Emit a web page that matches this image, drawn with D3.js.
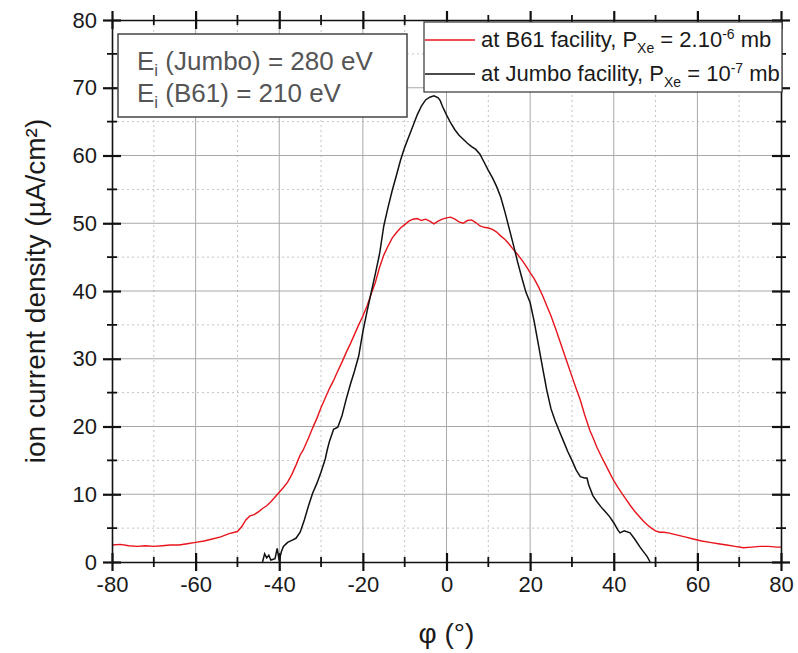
<!DOCTYPE html>
<html>
<head>
<meta charset="utf-8">
<script src="https://cdn.jsdelivr.net/npm/d3@7"></script>
<style>
  body { margin: 0; background: #fff; }
  svg { display: block; font-family: "Liberation Sans", Arial, sans-serif; }
</style>
</head>
<body>
<svg id="chart" width="798" height="653"></svg>
<script>
// ---- data ----
const phiB61 = [-80,-78,-76,-74,-72,-70,-68,-66,-64,-62,-60,-58,-56,-54,-52,-50,-49,-48,-47,-46,-45,-44,-43,-42,-41,-40,-39,-38,-37,-36,-35,-34.3,-33,-32,-31,-30,-29,-28,-27,-26,-25,-24,-23,-22,-21,-20,-19,-18,-17,-16,-15,-14,-13,-12,-11,-10,-9,-8,-7,-6,-5,-4,-3,-2,-1,0,1,2,3,4,5,6,7,8,9,10,11,12,13,14,15,16,17,18,19,20,21,22,23,24,25,26,27,28,29,30,31,32,33,34.3,35,36,37,38,39,40,41,42,43,44,45,46,47,48,49,50,51,52,53,55,57,59,61,63,65,67,69,71,73,75,77,79,80];
const jB61 = [2.5,2.6,2.4,2.3,2.4,2.3,2.4,2.5,2.5,2.7,2.9,3.1,3.4,3.7,4.2,4.5,5.2,6.2,6.8,7.0,7.4,7.9,8.3,8.9,9.6,10.3,11.0,11.8,12.9,14.3,15.8,16.5,18.3,19.8,21.2,22.8,24.2,25.6,26.8,28.2,29.5,30.9,32.2,33.6,35.0,36.3,37.8,39.6,41.3,43.5,45.3,46.6,47.8,48.6,49.3,49.8,50.3,50.6,50.7,50.4,50.6,50.3,49.9,50.3,50.6,50.8,50.9,50.6,50.2,50.0,50.4,50.5,50.1,49.6,49.4,49.3,49.1,48.7,48.1,47.6,46.9,46.1,45.4,44.6,43.7,42.7,41.8,40.6,39.3,37.8,36.3,34.6,32.8,31.0,29.2,27.4,25.6,23.9,21.8,19.4,18.4,16.9,15.6,14.4,13.2,12.0,11.0,10.1,9.2,8.3,7.5,6.8,6.1,5.5,5.0,4.6,4.4,4.4,4.3,4.0,3.7,3.4,3.1,2.9,2.7,2.5,2.3,2.1,2.2,2.3,2.3,2.2,2.2];

const phiJumbo = [-44,-43.5,-43,-42.5,-42,-41,-40.5,-40,-39.5,-39,-38,-37,-36,-35,-34,-33,-32,-31,-30,-29,-28.5,-28,-27,-26,-25,-24,-23,-22,-21,-20,-19,-18,-17,-16,-15,-14,-13,-12,-11,-10,-9,-8,-7,-6,-5,-4,-3,-2,-1.5,-1,0,1,2,3,4,5,6,7,8,9,10,11,12,13,14,15,16,17,18,19,20,21,22,23,24,25,26,27,28,29,30,31,32,33,33.6,34,35,36,37,38,39,40,41,41.5,42.5,43.9,45,46.3,47,48,48.7];
const jJumbo = [0,1.2,0.6,1.0,0.3,0.5,2.0,0.2,1.5,2.3,2.9,3.2,3.5,4.4,6.2,8.3,10.2,11.6,13.3,15.2,16.6,17.8,19.6,19.9,21.6,24.0,26.2,28.2,30.4,34.0,37.0,39.8,42.6,45.5,49.6,52.3,54.8,57.0,59.3,61.2,62.8,64.4,66.0,67.3,68.2,68.6,68.8,68.5,68.1,67.3,66.0,64.8,63.8,63.0,62.4,61.8,61.3,60.9,60.2,59.0,57.8,56.7,55.4,53.8,51.6,49.2,46.8,44.3,42.0,39.8,38.3,35.4,32.0,28.6,25.3,22.6,20.8,19.3,17.8,16.3,15.0,13.6,12.6,12.4,12.4,11.4,9.8,8.9,8.1,7.4,6.7,5.8,4.7,4.3,4.6,4.3,3.4,2.2,1.6,0.8,0];

const xTicksMajor = [-80,-60,-40,-20,0,20,40,60,80];
const xTicksMinor = [-70,-50,-30,-10,10,30,50,70];
const yTicksMajor = [0,10,20,30,40,50,60,70,80];
const yTicksMinor = [5,15,25,35,45,55,65,75];

const seriesColors = ["#e8141c", "#111111"];

// ---- layout ----
const svg = d3.select("#chart");
const L = 112, R = 781, T = 20, B = 562;
const x = d3.scaleLinear().domain([-80, 80]).range([L, R]);
const y = d3.scaleLinear().domain([0, 80]).range([B, T]);

// grid
const grid = svg.append("g");
grid.selectAll(".gxm").data(xTicksMinor).join("line")
  .attr("x1", d => x(d)).attr("x2", d => x(d)).attr("y1", T).attr("y2", B)
  .attr("stroke", "#c4c4c4").attr("stroke-width", 1).attr("stroke-dasharray", "2,3");
grid.selectAll(".gym").data(yTicksMinor).join("line")
  .attr("y1", d => y(d)).attr("y2", d => y(d)).attr("x1", L).attr("x2", R)
  .attr("stroke", "#c4c4c4").attr("stroke-width", 1).attr("stroke-dasharray", "2,3");
grid.selectAll(".gxM").data(xTicksMajor.slice(1, -1)).join("line")
  .attr("x1", d => x(d)).attr("x2", d => x(d)).attr("y1", T).attr("y2", B)
  .attr("stroke", "#a8a8a8").attr("stroke-width", 1);
grid.selectAll(".gyM").data(yTicksMajor.slice(1, -1)).join("line")
  .attr("y1", d => y(d)).attr("y2", d => y(d)).attr("x1", L).attr("x2", R)
  .attr("stroke", "#a8a8a8").attr("stroke-width", 1);

// curves
const line = d3.line().x(d => x(d[0])).y(d => y(d[1]));
const b61 = phiB61.map((p, i) => [p, jB61[i]]);
const jumbo = phiJumbo.map((p, i) => [p, jJumbo[i]]);
svg.append("path").datum(b61).attr("d", line)
  .attr("fill", "none").attr("stroke", seriesColors[0]).attr("stroke-width", 1.4);
svg.append("path").datum(jumbo).attr("d", line)
  .attr("fill", "none").attr("stroke", seriesColors[1]).attr("stroke-width", 1.5);

// axes on all four sides, ticks crossing the axis line
const axes = [
  { g: "translate(0," + B + ")", gen: d3.axisBottom(x), labels: true, back: -9 },
  { g: "translate(0," + T + ")", gen: d3.axisTop(x), labels: false, back: 9 },
  { g: "translate(" + L + ",0)", gen: d3.axisLeft(y), labels: true, back: 9 },
  { g: "translate(" + R + ",0)", gen: d3.axisRight(y), labels: false, back: -9 }
];
axes.forEach((a, idx) => {
  const isX = idx < 2;
  const major = isX ? xTicksMajor : yTicksMajor;
  const minor = isX ? xTicksMinor : yTicksMinor;
  const gMaj = svg.append("g").attr("transform", a.g)
    .call(a.gen.tickValues(major).tickSize(9).tickSizeOuter(0).tickPadding(isX ? 5 : 6)
      .tickFormat(a.labels ? (d => String(d)) : () => ""));
  gMaj.select(".domain").attr("stroke", "#111").attr("stroke-width", 1.6);
  gMaj.selectAll(".tick line").attr("stroke", "#111").attr("stroke-width", 2.2);
  gMaj.selectAll(".tick").append("line")
    .attr(isX ? "y2" : "x2", a.back)
    .attr("stroke", "#111").attr("stroke-width", 2.2);
  gMaj.selectAll(".tick text")
    .attr("fill", "#1a1a1a").style("font-size", "22px");
  const gMin = svg.append("g").attr("transform", a.g);
  gMin.selectAll("line").data(minor).join("line")
    .attr(isX ? "x1" : "y1", d => isX ? x(d) : y(d))
    .attr(isX ? "x2" : "y2", d => isX ? x(d) : y(d))
    .attr(isX ? "y1" : "x1", -5).attr(isX ? "y2" : "x2", 5)
    .attr("stroke", "#111").attr("stroke-width", 1.8);
});

// axis titles
svg.append("text").attr("x", x(0)).attr("y", 643).attr("text-anchor", "middle")
  .style("font-size", "28px").attr("fill", "#1a1a1a").text("φ (°)");
svg.append("text").attr("transform", "translate(45," + ((T + B) / 2) + ") rotate(-90)")
  .attr("text-anchor", "middle").style("font-size", "28px").attr("fill", "#1a1a1a")
  .text("ion current density (µA/cm²)");

// energy box
const eb = svg.append("g");
eb.append("rect").attr("x", 118).attr("y", 34).attr("width", 289).attr("height", 83)
  .attr("fill", "#fff").attr("stroke", "#444").attr("stroke-width", 1.5);
const eLines = [["Jumbo", "280"], ["B61", "210"]];
eLines.forEach((e, i) => {
  const t = eb.append("text").attr("x", 137).attr("y", 70 + i * 32)
    .style("font-size", "26px").attr("fill", "#555");
  t.append("tspan").text("E");
  t.append("tspan").attr("dy", 6).style("font-size", "17px").text("i");
  t.append("tspan").attr("dy", -6).text(" (" + e[0] + ") = " + e[1] + " eV");
});

// legend
const lg = svg.append("g");
lg.append("rect").attr("x", 424).attr("y", 22).attr("width", 358).attr("height", 70)
  .attr("fill", "#fff").attr("stroke", "#333").attr("stroke-width", 1.2);
const legendRows = [
  { name: "at B61 facility, P", exp: "-6", pre: " = 2.10" },
  { name: "at Jumbo facility, P", exp: "-7", pre: " = 10" }
];
legendRows.forEach((r, i) => {
  const yy = 40 + i * 34;
  lg.append("line").attr("x1", 425).attr("x2", 475).attr("y1", yy).attr("y2", yy)
    .attr("stroke", seriesColors[i]).attr("stroke-width", 1.6);
  const t = lg.append("text").attr("x", 481).attr("y", yy + 7)
    .style("font-size", "22px").attr("fill", "#1a1a1a");
  t.append("tspan").text(r.name);
  t.append("tspan").attr("dy", 6).style("font-size", "14px").text("Xe");
  t.append("tspan").attr("dy", -6).text(r.pre);
  t.append("tspan").attr("dy", -8).style("font-size", "14px").text(r.exp);
  t.append("tspan").attr("dy", 8).text(" mb");
});
</script>
</body>
</html>
